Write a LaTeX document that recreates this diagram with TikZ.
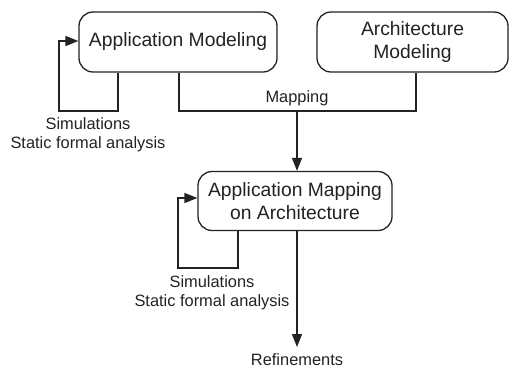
\documentclass[tikz,border=0pt]{standalone}
\usepackage{fontspec}
\setmainfont{Liberation Sans}
\usetikzlibrary{arrows.meta}
\definecolor{ink}{HTML}{222222}
\tikzset{
  box/.style={draw=ink, line width=1.3pt, rounded corners=14pt, inner sep=0pt,
              align=center, text=ink, font=\fontsize{19.3}{23.5}\selectfont},
  lbl/.style={inner sep=0pt, align=center, text=ink, font=\fontsize{16.4}{19}\selectfont},
  wire/.style={draw=ink, line width=1.3pt},
  arr/.style={wire, -{Triangle[length=13pt,width=10pt]}}
}
\begin{document}
\begin{tikzpicture}[x=1pt,y=-1pt]
\useasboundingbox (0,0) rectangle (510,368);
% modelling boxes
\node[box, minimum width=198pt, minimum height=60pt] (appmod) at (178,42) {Application Modeling};
\node[box, minimum width=191pt, minimum height=60pt] (archmod) at (412.5,42) {Architecture\\Modeling};
\node[box, minimum width=194pt, minimum height=59pt] (mapped) at (295,201) {Application Mapping\\on Architecture};
% bend points
\coordinate (l1a) at (118,111);
\coordinate (l1b) at (59,41);
\coordinate (mL) at (179,111);
\coordinate (mR) at (416,111);
\coordinate (mC) at (297,111);
\coordinate (l2a) at (238,268);
\coordinate (l2b) at (178,198);
\coordinate (rEnd) at (297,347);
% feedback loop on the application model
\draw[arr] (appmod.south -| l1a) -- (l1a) -| (l1b) -- (appmod.west |- l1b);
\node[lbl] (sim1) at (88,134.5) {Simulations\\Static formal analysis};
% mapping join
\draw[wire] (appmod.south -| mL) -- (mL) -- (mR) -- (archmod.south -| mR);
\draw[arr] (mC) -- (mapped.north -| mC);
\node[lbl] (maplbl) at (297,98) {Mapping};
% feedback loop on the mapped model
\draw[arr] (mapped.south -| l2a) -- (l2a) -| (l2b) -- (mapped.west |- l2b);
\node[lbl] (sim2) at (212,292.5) {Simulations\\Static formal analysis};
% refinements
\node[lbl] (refine) at (297,360) {Refinements};
\draw[arr] (mapped.south -| rEnd) -- (rEnd);
\end{tikzpicture}
\end{document}
